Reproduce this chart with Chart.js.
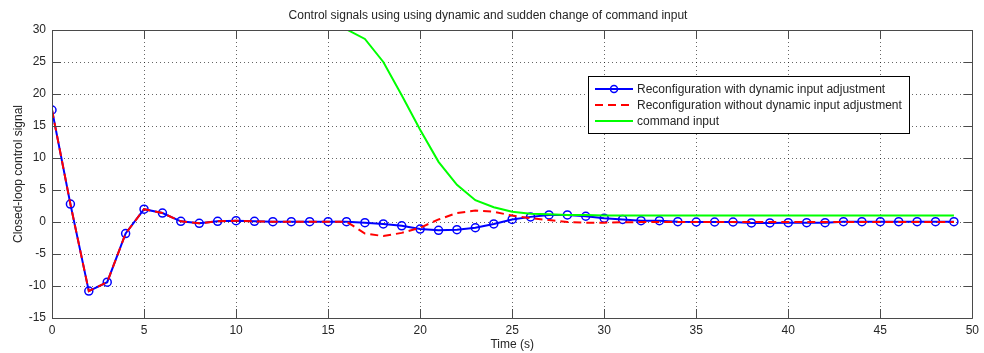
<!DOCTYPE html>
<html>
<head>
<meta charset="utf-8">
<script src="https://cdn.jsdelivr.net/npm/chart.js@4.4.0/dist/chart.umd.min.js"></script>
<style>
  html, body { margin: 0; padding: 0; background: #fff; }
  #wrap { width: 984px; height: 353px; }
</style>
</head>
<body>
<div id="wrap"><canvas id="ctrlChart" width="984" height="353"></canvas></div>
<script>
// Time samples (s)
const timeS = [0,1,2,3,4,5,6,7,8,9,10,11,12,13,14,15,16,17,18,19,20,21,22,23,24,
               25,26,27,28,29,30,31,32,33,34,35,36,37,38,39,40,41,42,43,44,45,46,47,48,49];

// Reconfiguration with dynamic input adjustment
const withAdjust = [17.5,2.8,-10.8,-9.4,-1.8,2.0,1.4,0.1,-0.2,0.1,0.2,0.1,0.05,0.05,0.05,0.05,0.05,
                    -0.1,-0.3,-0.6,-1.1,-1.3,-1.2,-0.9,-0.3,0.4,0.8,1.1,1.1,0.9,0.6,0.4,0.2,0.2,
                    0.05,0,0,0,-0.15,-0.15,-0.1,-0.1,-0.1,0.05,0.05,0.05,0.05,0.05,0.05,0.05];

// Reconfiguration without dynamic input adjustment
const withoutAdjust = [17.5,2.8,-10.8,-9.4,-1.8,2.0,1.4,0.1,-0.2,0.1,0.2,0.1,0.05,0.05,0.05,0.05,0.05,
                       -1.8,-2.2,-1.7,-0.9,0.4,1.4,1.8,1.6,1.0,0.6,0.3,0.0,-0.1,-0.1,-0.05,0,0,
                       0,0,0,0,0,0,0,0,0,0,0,0,0,0,0,0];

// command input (enters the visible range at t = 16)
const commandTime = [16,17,18,19,20,21,22,23,24,25,26,27,28,29,30,31,32,
                     33,34,35,36,37,38,39,40,41,42,43,44,45,46,47,48,49];
const commandInput = [30.1,28.6,25.0,19.8,14.4,9.4,5.8,3.4,2.3,1.6,1.3,1.2,1.1,1.1,1.0,1.0,1.0,
                      1.0,1.0,1.0,1.0,1.0,1.0,1.0,1.0,1.0,1.0,1.0,1.0,1.0,1.0,1.0,1.0,1.0];

const xTicks = [0,5,10,15,20,25,30,35,40,45,50];
const yTicks = [-15,-10,-5,0,5,10,15,20,25,30];

const seriesLabels = [
    'Reconfiguration with dynamic input adjustment',
    'Reconfiguration without dynamic input adjustment',
    'command input'
];

const FONT = '"Liberation Sans", Arial, Helvetica, sans-serif';
const TEXT = '#262626';

// Box around the axes with inward ticks on all four sides, plus legend
const matlabFrame = {
    id: 'matlabFrame',
    afterDraw(chart) {
        const ctx = chart.ctx;
        const a = chart.chartArea;
        const xs = chart.scales.x, ys = chart.scales.y;
        const tl = 9;
        ctx.save();
        ctx.strokeStyle = '#4a4a4a';
        ctx.lineWidth = 1;
        ctx.beginPath();
        ctx.rect(Math.round(a.left) + 0.5, Math.round(a.top) + 0.5,
                 Math.round(a.right - a.left), Math.round(a.bottom - a.top));
        xTicks.forEach(v => {
            const px = Math.round(xs.getPixelForValue(v)) + 0.5;
            ctx.moveTo(px, a.bottom); ctx.lineTo(px, a.bottom - tl);
            ctx.moveTo(px, a.top); ctx.lineTo(px, a.top + tl);
        });
        yTicks.forEach(v => {
            const py = Math.round(ys.getPixelForValue(v)) + 0.5;
            ctx.moveTo(a.left, py); ctx.lineTo(a.left + tl, py);
            ctx.moveTo(a.right, py); ctx.lineTo(a.right - tl, py);
        });
        ctx.stroke();

        // legend
        const lx = 588.5, ly = 76.5, lw = 321, lh = 57;
        ctx.fillStyle = '#fff';
        ctx.fillRect(lx, ly, lw, lh);
        ctx.strokeStyle = '#000';
        ctx.strokeRect(lx, ly, lw, lh);
        const rows = [89, 105, 121];
        const styles = [
            { color: '#0000ff', dash: [], marker: true },
            { color: '#ff0000', dash: [8, 5], marker: false },
            { color: '#00ff00', dash: [], marker: false }
        ];
        ctx.font = '12px ' + FONT;
        ctx.textBaseline = 'middle';
        rows.forEach((y, i) => {
            const s = styles[i];
            ctx.strokeStyle = s.color;
            ctx.lineWidth = 2;
            ctx.setLineDash(s.dash);
            ctx.beginPath();
            ctx.moveTo(595, y); ctx.lineTo(633, y);
            ctx.stroke();
            ctx.setLineDash([]);
            if (s.marker) {
                ctx.lineWidth = 1.5;
                ctx.beginPath();
                ctx.arc(614, y, 3.5, 0, Math.PI * 2);
                ctx.stroke();
            }
            ctx.fillStyle = TEXT;
            ctx.fillText(seriesLabels[i], 637, y + 0.5);
        });
        ctx.restore();
    }
};

new Chart(document.getElementById('ctrlChart'), {
    type: 'line',
    data: {
        datasets: [
            {
                label: seriesLabels[0],
                data: timeS.map((t, i) => ({ x: t, y: withAdjust[i] })),
                borderColor: '#0000ff',
                borderWidth: 2,
                pointRadius: 4,
                pointBorderWidth: 1.5,
                pointBorderColor: '#0000ff',
                pointBackgroundColor: 'rgba(0,0,0,0)',
                tension: 0,
                order: 3
            },
            {
                label: seriesLabels[1],
                data: timeS.map((t, i) => ({ x: t, y: withoutAdjust[i] })),
                borderColor: '#ff0000',
                borderWidth: 2,
                borderDash: [8, 5],
                pointRadius: 0,
                tension: 0,
                order: 2
            },
            {
                label: seriesLabels[2],
                data: commandTime.map((t, i) => ({ x: t, y: commandInput[i] })),
                borderColor: '#00ff00',
                borderWidth: 2,
                pointRadius: 0,
                tension: 0,
                order: 1
            }
        ]
    },
    options: {
        responsive: false,
        animation: false,
        events: [],
        layout: { padding: { left: 0, right: 8, top: 0, bottom: 0 } },
        plugins: {
            legend: { display: false },
            tooltip: { enabled: false },
            title: {
                display: true,
                text: 'Control signals using using dynamic and sudden change of command input',
                color: TEXT,
                font: { family: FONT, size: 12, weight: 'normal' },
                padding: { top: 8, bottom: 7.6 }
            }
        },
        scales: {
            x: {
                type: 'linear',
                min: 0,
                max: 50,
                afterBuildTicks: s => { s.ticks = xTicks.map(v => ({ value: v })); },
                afterFit: s => { s.height = 35; },
                grid: { color: 'rgba(0,0,0,0.6)', lineWidth: 1, drawTicks: false },
                border: { display: false, dash: [1, 3] },
                ticks: { color: TEXT, padding: 5, maxRotation: 0, font: { family: FONT, size: 12 } },
                title: {
                    display: true, text: 'Time (s)', color: TEXT,
                    font: { family: FONT, size: 12 }, padding: { top: 0, bottom: 1 }
                }
            },
            y: {
                min: -15,
                max: 30,
                afterBuildTicks: s => { s.ticks = yTicks.map(v => ({ value: v })); },
                afterFit: s => { s.width = 52; },
                grid: { color: 'rgba(0,0,0,0.6)', lineWidth: 1, drawTicks: false },
                border: { display: false, dash: [1, 3] },
                ticks: { color: TEXT, padding: 6, font: { family: FONT, size: 12 } },
                title: {
                    display: true, text: 'Closed-loop control signal', color: TEXT,
                    font: { family: FONT, size: 12 }, padding: { top: 11, bottom: 0 }
                }
            }
        }
    },
    plugins: [matlabFrame]
});
</script>
</body>
</html>
